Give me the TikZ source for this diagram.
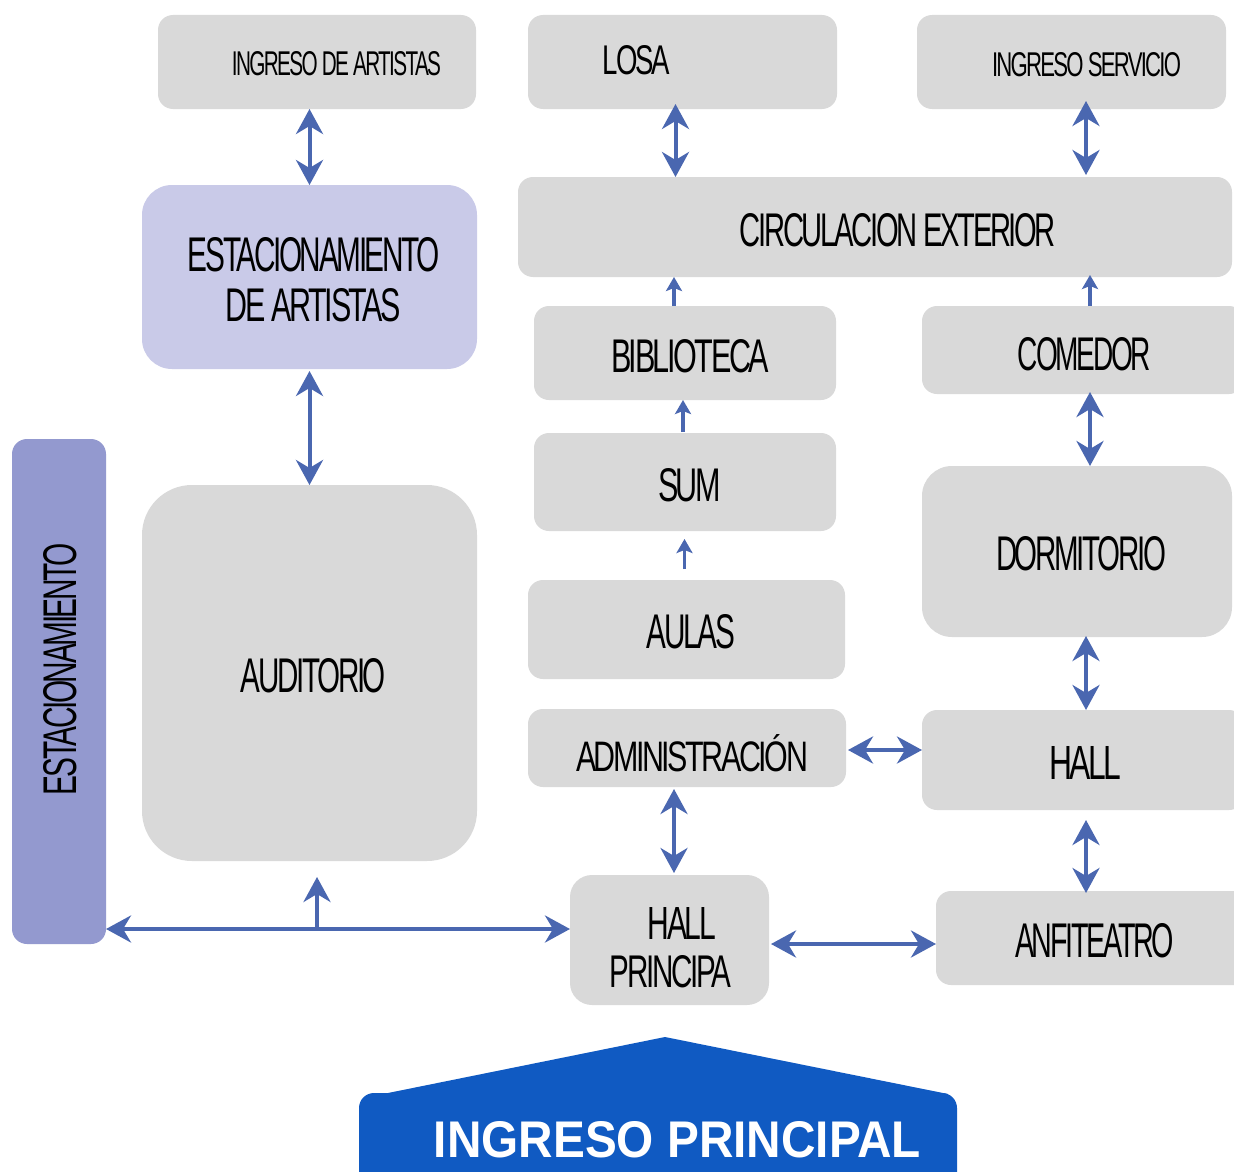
\documentclass[tikz,border=0pt]{standalone}
\usepackage{graphicx}
\usepackage{fontspec}
\setmainfont{Liberation Sans}
\newfontfamily\cf[LetterSpace=-8]{Liberation Sans}
\newfontfamily\hv{Liberation Sans}
\usetikzlibrary{arrows.meta}
\definecolor{boxg}{HTML}{D9D9D9}
\definecolor{lilac}{HTML}{C9CAE8}
\definecolor{violet}{HTML}{9399CF}
\definecolor{ingc}{HTML}{105AC2}
\definecolor{arrowc}{HTML}{4A67B0}
\tikzset{
  box/.style={rectangle, draw=none, inner sep=0pt, outer sep=0pt},
  txt/.style={inner sep=0pt, outer sep=0pt, text=black},
  biarrow/.style={draw=arrowc, line width=4pt,
    {Stealth[length=25pt,width=27pt,inset=8pt]}-{Stealth[length=25pt,width=27pt,inset=8pt]}},
  uparrow/.style={draw=arrowc, line width=4pt,
    -{Stealth[length=25pt,width=27pt,inset=8pt]}},
  smallarrow/.style={draw=arrowc, line width=3.3pt,
    -{Stealth[length=14pt,width=16pt,inset=3pt]}}
}
% name, x1, y1, x2, y2, colour, radius
\newcommand\bx[7]{\node[box,fill=#6,rounded corners=#7pt,
  minimum width={#4pt-#2pt},minimum height={#5pt-#3pt}] (#1) at ({(#2+#4)/2},{(#3+#5)/2}) {};}
% name, x, y, width, height, text
\newcommand\tl[6]{\node[txt] (#1) at (#2,#3) {\resizebox{#4pt}{#5pt}{\cf #6}};}
\begin{document}
\begin{tikzpicture}[x=1pt,y=-1pt]
\useasboundingbox (0,0) rectangle (1234,1172);
\clip (0,0) rectangle (1234,1172);
\fill[white] (0,0) rectangle (1234,1172);

% boxes
\bx{ingart}{158}{15}{476}{109}{boxg}{15}
\bx{losa}{528}{15}{837}{109}{boxg}{15}
\bx{ingserv}{917}{15}{1226}{109}{boxg}{15}
\bx{circ}{518}{177}{1232}{277}{boxg}{15}
\bx{estart}{142}{185}{477}{369}{lilac}{30}
\bx{bib}{534}{306}{836}{400}{boxg}{15}
\bx{com}{922}{306}{1244}{394}{boxg}{15}
\bx{sum}{534}{433}{836}{531}{boxg}{15}
\bx{dorm}{922}{466}{1232}{637}{boxg}{30}
\bx{aulas}{528}{580}{845}{679}{boxg}{15}
\bx{aud}{142}{485}{477}{861}{boxg}{50}
\bx{admin}{528}{709}{846}{787}{boxg}{15}
\bx{hall}{922}{710}{1244}{810}{boxg}{15}
\bx{hallp}{570}{875}{769}{1005}{boxg}{22}
\bx{anfi}{936}{891}{1250}{985}{boxg}{15}
\bx{est}{12}{439}{106}{944}{violet}{15}
\bx{ingp}{359}{1093}{957}{1200}{ingc}{15}
\fill[ingc] (ingp.north west) ++(24,1) -- (665,1037) -- ([xshift=-9pt,yshift=-1pt]ingp.north east) -- cycle;

% texts
\tl{ingart-t}{336.5}{64}{209}{24}{INGRESO DE ARTISTAS}
\tl{losa-t}{636.5}{60.5}{67}{29}{LOSA}
\tl{ingserv-t}{1086.5}{64.5}{189}{24}{INGRESO SERVICIO}
\tl{circ-t}{898}{230}{316}{33}{CIRCULACION EXTERIOR}
\tl{estart-t1}{314}{255}{252}{34}{ESTACIONAMIENTO}
\tl{estart-t2}{313.5}{305.5}{175}{33}{DE ARTISTAS}
\tl{bib-t}{690}{356.5}{158}{33}{BIBLIOTECA}
\tl{com-t}{1084.5}{354.5}{133}{33}{COMEDOR}
\tl{sum-t}{689.5}{485.5}{63}{33}{SUM}
\tl{dorm-t}{1081}{554}{170}{34}{DORMITORIO}
\tl{aulas-t}{691}{632}{88}{34}{AULAS}
\tl{aud-t}{313.5}{676}{145}{34}{AUDITORIO}
\tl{admin-t}{692}{753.5}{232}{37}{ADMINISTRACIÓN}
\tl{hall-t}{1085}{762.5}{72}{33}{HALL}
\tl{hallp-t1}{682}{923}{68}{32}{HALL}
\tl{hallp-t2}{670.5}{972}{121}{32}{PRINCIPA}
\tl{anfi-t}{1094.5}{941}{159}{34}{ANFITEATRO}
\node[txt,rotate=90] (est-t) at (60.5,669) {\resizebox{252pt}{33pt}{\cf ESTACIONAMIENTO}};
\node[txt,text=white] (ingp-t) at (677.5,1139.5) {\resizebox{487pt}{36pt}{\hv\bfseries INGRESO PRINCIPAL}};

% connectors
\draw[biarrow] (estart.north) -- (estart.north |- ingart.south);
\draw[biarrow] ([xshift=-7pt,yshift=5pt]losa.south) -- ([xshift=-7pt]losa.south |- circ.north);
\draw[biarrow] ([xshift=14.5pt,yshift=8pt]ingserv.south) -- ([xshift=14.5pt,yshift=2pt]ingserv.south |- circ.north);
\draw[smallarrow] ([xshift=-11pt]bib.north) -- ([xshift=-11pt]bib.north |- circ.south);
\draw[smallarrow] ([xshift=7pt]com.north) -- ([xshift=7pt,yshift=2pt]com.north |- circ.south);
\draw[smallarrow] ([xshift=-2pt,yshift=1pt]sum.north) -- ([xshift=-2pt]sum.north |- bib.south);
\draw[smallarrow] ([xshift=-2pt,yshift=11pt]aulas.north) -- ([xshift=-2pt,yshift=-8pt]aulas.north |- sum.south);
\draw[biarrow] ([xshift=7pt,yshift=2pt]com.south) -- ([xshift=7pt]com.south |- dorm.north);
\draw[biarrow] ([xshift=9pt,yshift=1pt]dorm.south) -- ([xshift=9pt]dorm.south |- hall.north);
\draw[biarrow] ([xshift=3pt,yshift=-10pt]hall.south) -- ([xshift=3pt,yshift=-2pt]hall.south |- anfi.north);
\draw[biarrow] ([xshift=2pt,yshift=-2pt]admin.east) -- ([yshift=-2pt]admin.east -| hall.west);
\draw[biarrow] ([xshift=-13pt,yshift=-2pt]admin.south) -- ([xshift=-13pt,yshift=2pt]admin.south |- hallp.north);
\draw[biarrow] ([yshift=-2pt]estart.south) -- (estart.south |- aud.north);
\path ([yshift=11pt]hallp.west) coordinate (hl);
\draw[biarrow] (hl) -- (hl -| est.east);
\draw[uparrow] ([xshift=7.5pt]aud.south |- hl) -- ([xshift=7.5pt,yshift=-16pt]aud.south);
\draw[biarrow] ([xshift=2pt,yshift=-4pt]hallp.east) -- ([yshift=-4pt]hallp.east -| anfi.west);
\end{tikzpicture}
\end{document}
